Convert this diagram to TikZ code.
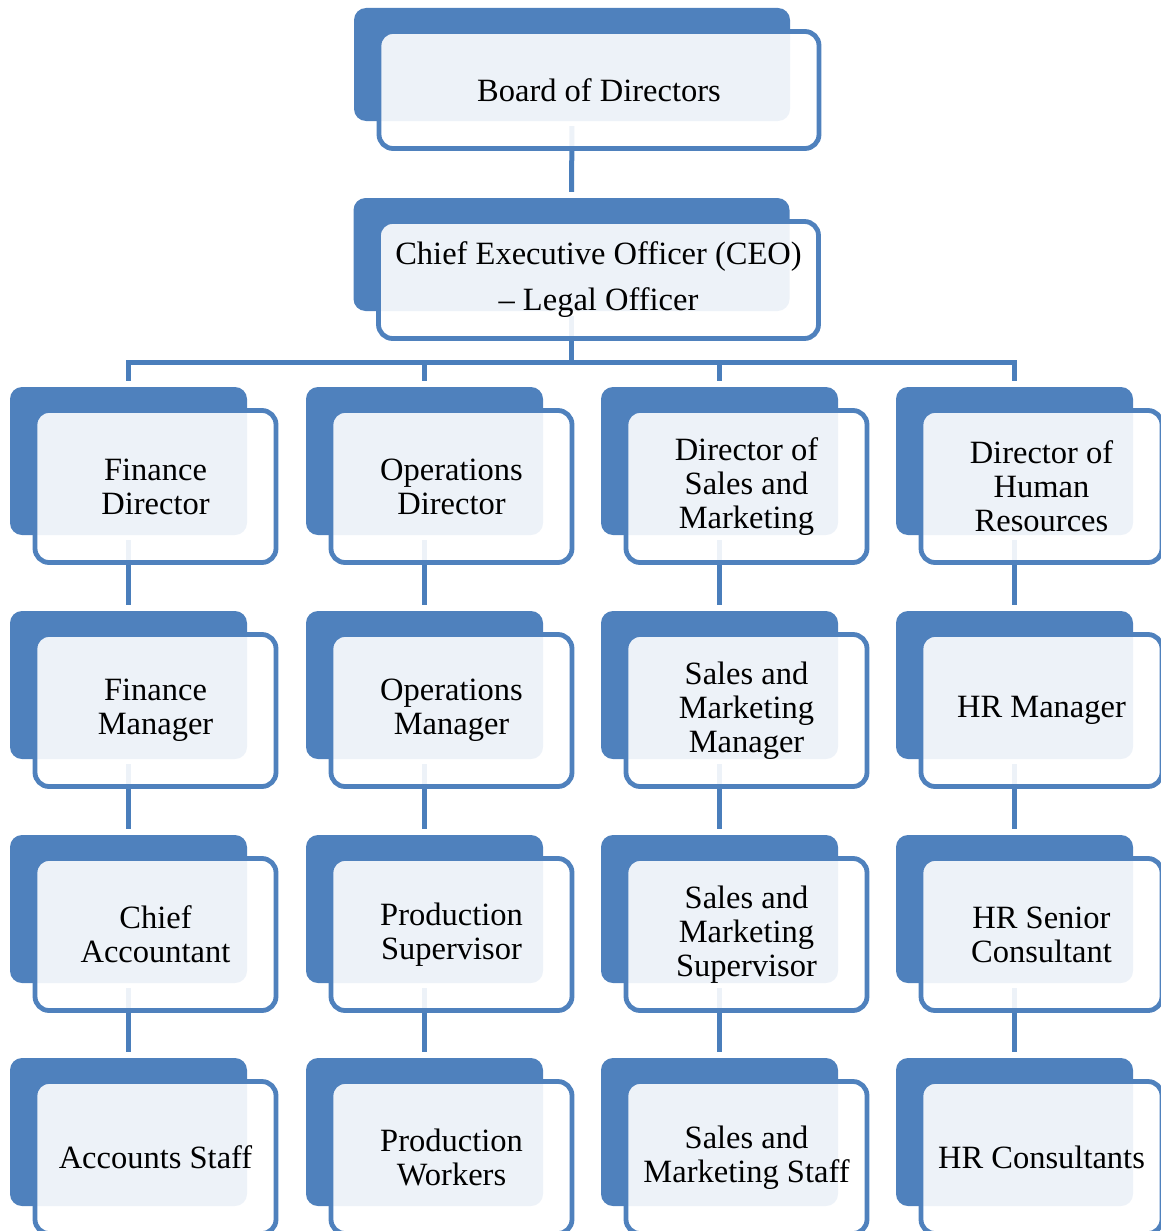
\documentclass[tikz,border=0pt]{standalone}
\usepackage{fontspec}
\setmainfont{Liberation Serif}
\usepackage{tikz}
\usetikzlibrary{backgrounds}

\definecolor{orgblue}{RGB}{79,129,189}
\definecolor{linkblue}{RGB}{74,126,187}

\begin{document}
\begin{tikzpicture}[x=1pt, y=-1pt,
    back/.style={fill=orgblue, rounded corners=12pt, inner sep=0pt,
                 minimum width=237pt, minimum height=148pt},
    front/.style={draw=orgblue, line width=4.8pt, fill=white, fill opacity=0.9,
                  text opacity=1, rounded corners=14pt, inner sep=0pt,
                  minimum width=241pt, minimum height=152pt, align=center,
                  font=\fontsize{32.5}{34}\selectfont},
    wide/.style={minimum width=436pt, minimum height=113pt},
    widefront/.style={minimum width=440pt, minimum height=117pt},
    link/.style={draw=linkblue, line width=5pt, shorten <=5pt, shorten >=6pt}]
    \useasboundingbox (0,0) rectangle (1161,1231);
    \def\dx{27}
    \def\dy{25.5}
    % top of the chart
    \node[back, wide] (board-b) at (572,64.5) {};
    \node[front, widefront] (board) at ([shift={(\dx,\dy)}]board-b.center) {Board of Directors};
    \node[back, wide] (ceo-b) at (571.5,254.5) {};
    \node[front, widefront] (ceo) at ([shift={(\dx,\dy)}]ceo-b.center) {Chief Executive Officer (CEO)\\[12pt]\textendash{} Legal Officer};
    % finance
    \node[back] (findir-b) at (128.5,461) {};
    \node[front] (findir) at ([shift={(\dx,\dy)}]findir-b.center) {Finance\\Director};
    \node[back] (finmgr-b) at (128.5,685) {};
    \node[front] (finmgr) at ([shift={(\dx,\dy)}]finmgr-b.center) {Finance\\Manager};
    \node[back] (chiefacc-b) at (128.5,909) {};
    \node[front] (chiefacc) at ([shift={(\dx,\dy)}]chiefacc-b.center) {Chief\\Accountant};
    \node[back] (accstaff-b) at (128.5,1132) {};
    \node[front] (accstaff) at ([shift={(\dx,\dy)}]accstaff-b.center) {Accounts Staff};
    % operations
    \node[back] (opsdir-b) at (424.5,461) {};
    \node[front] (opsdir) at ([shift={(\dx,\dy)}]opsdir-b.center) {Operations\\Director};
    \node[back] (opsmgr-b) at (424.5,685) {};
    \node[front] (opsmgr) at ([shift={(\dx,\dy)}]opsmgr-b.center) {Operations\\Manager};
    \node[back] (prodsup-b) at (424.5,909) {};
    \node[front] (prodsup) at ([shift={(\dx,\dy)}]prodsup-b.center) {Production\\Supervisor};
    \node[back] (prodwork-b) at (424.5,1132) {};
    \node[front] (prodwork) at ([shift={(\dx,\dy)}]prodwork-b.center) {Production\\Workers};
    % sales and marketing
    \node[back] (smdir-b) at (719.5,461) {};
    \node[front] (smdir) at ([shift={(\dx,\dy)}]smdir-b.center) {Director of\\Sales and\\Marketing};
    \node[back] (smmgr-b) at (719.5,685) {};
    \node[front] (smmgr) at ([shift={(\dx,\dy)}]smmgr-b.center) {Sales and\\Marketing\\Manager};
    \node[back] (smsup-b) at (719.5,909) {};
    \node[front] (smsup) at ([shift={(\dx,\dy)}]smsup-b.center) {Sales and\\Marketing\\Supervisor};
    \node[back] (smstaff-b) at (719.5,1132) {};
    \node[front] (smstaff) at ([shift={(\dx,\dy)}]smstaff-b.center) {Sales and\\Marketing Staff};
    % human resources
    \node[back] (hrdir-b) at (1014.5,461) {};
    \node[front] (hrdir) at ([shift={(\dx,\dy)}]hrdir-b.center) {Director of\\Human\\Resources};
    \node[back] (hrmgr-b) at (1014.5,685) {};
    \node[front] (hrmgr) at ([shift={(\dx,\dy)}]hrmgr-b.center) {HR Manager};
    \node[back] (hrsen-b) at (1014.5,909) {};
    \node[front] (hrsen) at ([shift={(\dx,\dy)}]hrsen-b.center) {HR Senior\\Consultant};
    \node[back] (hrcons-b) at (1014.5,1132) {};
    \node[front] (hrcons) at ([shift={(\dx,\dy)}]hrcons-b.center) {HR Consultants};
    % reporting lines, kept under the boxes
    \begin{scope}[on background layer]
        \coordinate (bus) at (0,362);
        \draw[link] (board-b.south) -- (ceo-b.north);
        \draw[link, shorten >=0pt] (ceo-b.south) -- (ceo-b.south |- bus);
        \draw[link, shorten <=6pt] (findir-b.north) |- (hrdir-b.north |- bus) -- (hrdir-b.north);
        \draw[link, shorten <=0pt] (opsdir-b.north |- bus) -- (opsdir-b.north);
        \draw[link, shorten <=0pt] (smdir-b.north |- bus) -- (smdir-b.north);
        \draw[link] (findir-b.south) -- (finmgr-b.north);
        \draw[link] (finmgr-b.south) -- (chiefacc-b.north);
        \draw[link] (chiefacc-b.south) -- (accstaff-b.north);
        \draw[link] (opsdir-b.south) -- (opsmgr-b.north);
        \draw[link] (opsmgr-b.south) -- (prodsup-b.north);
        \draw[link] (prodsup-b.south) -- (prodwork-b.north);
        \draw[link] (smdir-b.south) -- (smmgr-b.north);
        \draw[link] (smmgr-b.south) -- (smsup-b.north);
        \draw[link] (smsup-b.south) -- (smstaff-b.north);
        \draw[link] (hrdir-b.south) -- (hrmgr-b.north);
        \draw[link] (hrmgr-b.south) -- (hrsen-b.north);
        \draw[link] (hrsen-b.south) -- (hrcons-b.north);
    \end{scope}
\end{tikzpicture}
\end{document}
